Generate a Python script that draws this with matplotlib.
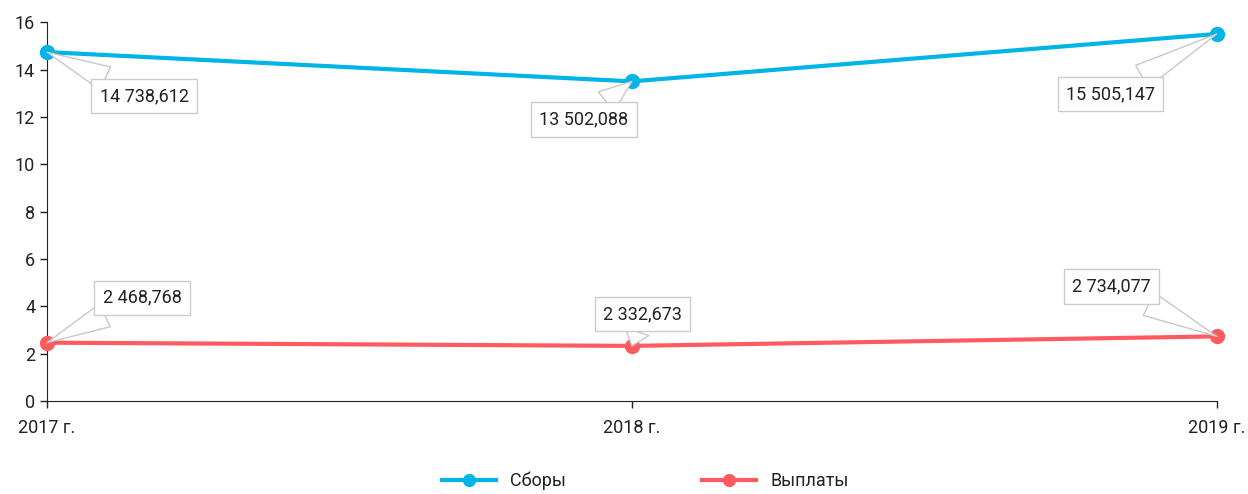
import matplotlib.pyplot as plt

years = ['2017 г.', '2018 г.', '2019 г.']
sbory = [14.738612, 13.502088, 15.505147]
vyplaty = [2.468768, 2.332673, 2.734077]
sbory_labels = ['14 738,612', '13 502,088', '15 505,147']
vyplaty_labels = ['2 468,768', '2 332,673', '2 734,077']

plt.rcParams['font.family'] = ['Roboto', 'DejaVu Sans']

blue = '#00B4E6'
red = '#FF5A5F'

fig = plt.figure(figsize=(12.48, 4.94), dpi=100)
ax = fig.add_axes([0.0377, 0.188, 0.9373, 0.767])

x = range(len(years))
ax.plot(x, sbory, color=blue, lw=3, marker='o', ms=10, clip_on=False,
        label='Сборы', zorder=3)
ax.plot(x, vyplaty, color=red, lw=3, marker='o', ms=10, clip_on=False,
        label='Выплаты', zorder=3)

ax.set_xlim(0, 2)
ax.set_ylim(0, 16)
ax.set_yticks(range(0, 17, 2))
ax.set_xticks(list(x))
ax.set_xticklabels(years)
for s in ['top', 'right']:
    ax.spines[s].set_visible(False)
for s in ['left', 'bottom']:
    ax.spines[s].set_color('#222222')
ax.tick_params(colors='#222222', labelsize=13, length=5, width=1)
ax.tick_params(axis='x', pad=8)

# callout offsets in pixels
s_off = [(97, -44), (-48, -38), (-106, -60)]
v_off = [(95, 45), (11, 32), (-105, 50)]


def callout(xi, yi, txt, off):
    ax.annotate(txt, (xi, yi), xytext=off, textcoords='offset pixels',
                ha='center', va='center', fontsize=13, color='#222222',
                bbox=dict(boxstyle='square,pad=0.45', fc='white', ec='#CCCCCC', lw=1),
                arrowprops=dict(arrowstyle='wedge,tail_width=1.4', fc='white',
                                ec='#C8C8C8', lw=1, shrinkA=0, shrinkB=0),
                zorder=4, annotation_clip=False)


for i in x:
    callout(i, sbory[i], sbory_labels[i], s_off[i])
    callout(i, vyplaty[i], vyplaty_labels[i], v_off[i])

fig.legend(loc='lower center', bbox_to_anchor=(0.517, -0.025), ncol=2, frameon=False,
           fontsize=13, handlelength=3, markerscale=0.85, columnspacing=7.5,
           labelcolor='#222222')

fig.savefig('out.png', dpi=100)
